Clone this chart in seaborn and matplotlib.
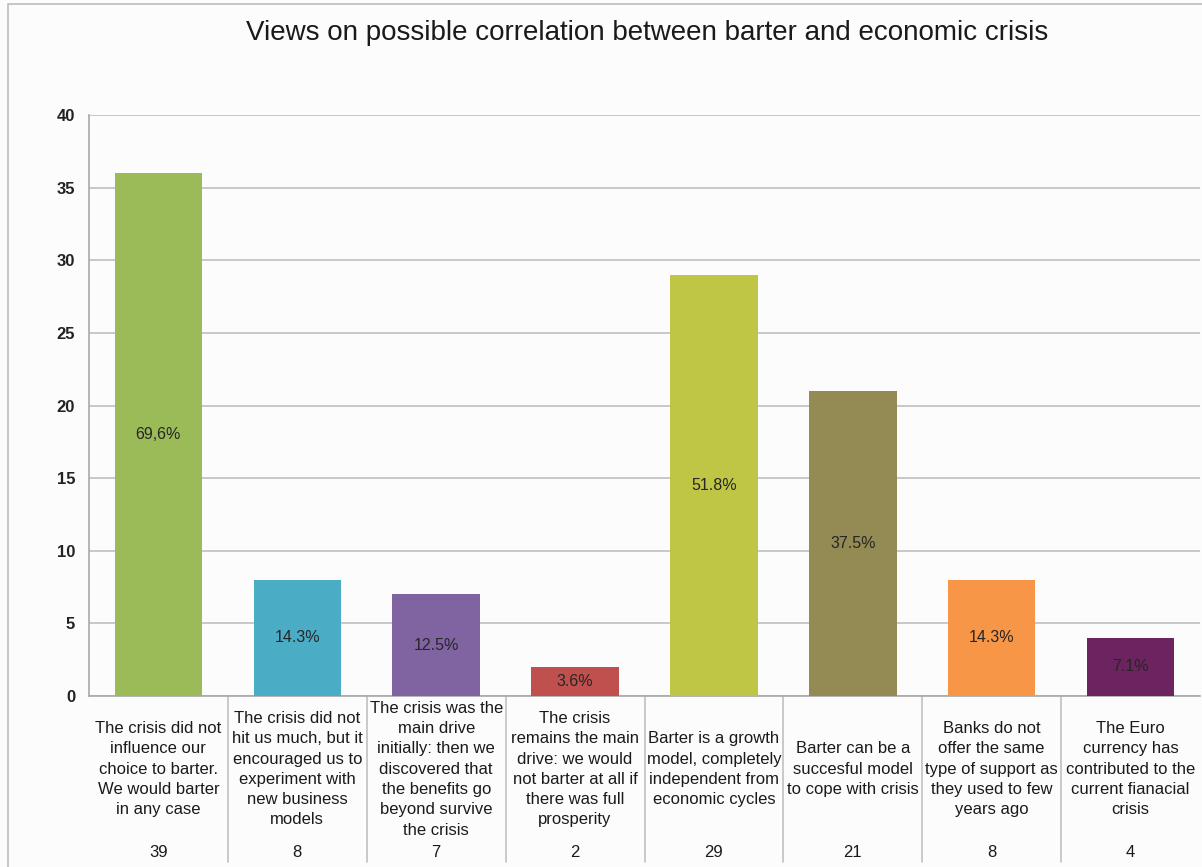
import matplotlib
matplotlib.use("Agg")
import matplotlib.pyplot as plt
import matplotlib.transforms as mtransforms
from matplotlib.patches import Rectangle
import seaborn as sns
import pandas as pd

# ---- data ----
categories = [
    "The crisis did not\ninfluence our\nchoice to barter.\nWe would barter\nin any case",
    "The crisis did not\nhit us much, but it\nencouraged us to\nexperiment with\nnew business\nmodels",
    "The crisis was the\nmain drive\ninitially: then we\ndiscovered that\nthe benefits go\nbeyond survive\nthe crisis",
    "The crisis\nremains the main\ndrive: we would\nnot barter at all if\nthere was full\nprosperity",
    "Barter is a growth\nmodel, completely\nindependent from\neconomic cycles",
    "Barter can be a\nsuccesful model\nto cope with crisis",
    "Banks do not\noffer the same\ntype of support as\nthey used to few\nyears ago",
    "The Euro\ncurrency has\ncontributed to the\ncurrent fianacial\ncrisis",
]
values = [36, 8, 7, 2, 29, 21, 8, 4]
counts = ["39", "8", "7", "2", "29", "21", "8", "4"]
pct_labels = ["69,6%", "14.3%", "12.5%", "3.6%", "51.8%", "37.5%", "14.3%", "7.1%"]
colors = ["#9BBB59", "#4BACC6", "#8064A2", "#C0504D",
          "#BFC545", "#948A54", "#F79646", "#6B2460"]
title = "Views on possible correlation between barter and economic crisis"

sns.set_style("white")
plt.rcParams["font.family"] = ["Liberation Sans", "DejaVu Sans"]

df = pd.DataFrame({"cat": [str(i) for i in range(len(values))], "val": values})

fig = plt.figure(figsize=(12.02, 8.67), dpi=100, facecolor="#FCFCFC")
W, H = 1202, 867
ax = fig.add_axes([89 / W, 1 - 696 / H, (1200 - 89) / W, (696 - 115) / H])
ax.set_facecolor("#FCFCFC")

sns.barplot(data=df, x="cat", y="val", hue="cat", palette=colors,
            legend=False, width=0.63, ax=ax, saturation=1,
            edgecolor="none", zorder=3)

ax.set_xlim(-0.5, len(values) - 0.5)
ax.set_ylim(0, 40)
ax.set_yticks(range(0, 41, 5))
ax.set_yticks(range(0, 41, 1), minor=True)
ax.yaxis.grid(True, which="major", color="#C8C8C8", linewidth=1.4, zorder=0)
ax.set_axisbelow(True)
ax.set_xticks([])
ax.set_xlabel("")
ax.set_ylabel("")
for lab in ax.get_yticklabels():
    lab.set_fontweight("bold")
ax.tick_params(axis="y", which="major", length=4, width=1, color="#A8A8A8",
               labelsize=12, pad=6, labelcolor="#222222")
ax.tick_params(axis="y", which="minor", length=3, width=1, color="#A8A8A8")
for s in ["top", "right"]:
    ax.spines[s].set_visible(False)
for s in ["left", "bottom"]:
    ax.spines[s].set_color("#A8A8A8")
    ax.spines[s].set_linewidth(1.2)

# percentage labels in the middle of bars
for i, (v, p) in enumerate(zip(values, pct_labels)):
    ax.text(i, v / 2, p, ha="center", va="center", fontsize=11.5,
            color="#262626", zorder=5)

# table beneath
trans = mtransforms.blended_transform_factory(ax.transData, ax.transAxes)
for i, (c, n) in enumerate(zip(categories, counts)):
    ax.text(i, -0.126, c, transform=trans, ha="center", va="center",
            fontsize=12, linespacing=1.44, color="#1A1A1A")
    ax.text(i, -0.270, n, transform=trans, ha="center", va="center",
            fontsize=12, color="#1A1A1A")
for k in range(1, len(values)):
    ax.plot([k - 0.5, k - 0.5], [0, -0.286], transform=trans,
            color="#C0C0C0", linewidth=1.2, clip_on=False)

fig.text(0.538, 0.962, title, ha="center", va="center", fontsize=20,
         color="#1A1A1A")

# outer frame
fig.patches.append(Rectangle((8 / W, -0.1), 1.2, 1.1 - 4 / H,
                             transform=fig.transFigure, fill=False,
                             edgecolor="#BDBDBD", linewidth=1.2))

fig.savefig("out.png", dpi=100, facecolor=fig.get_facecolor())
